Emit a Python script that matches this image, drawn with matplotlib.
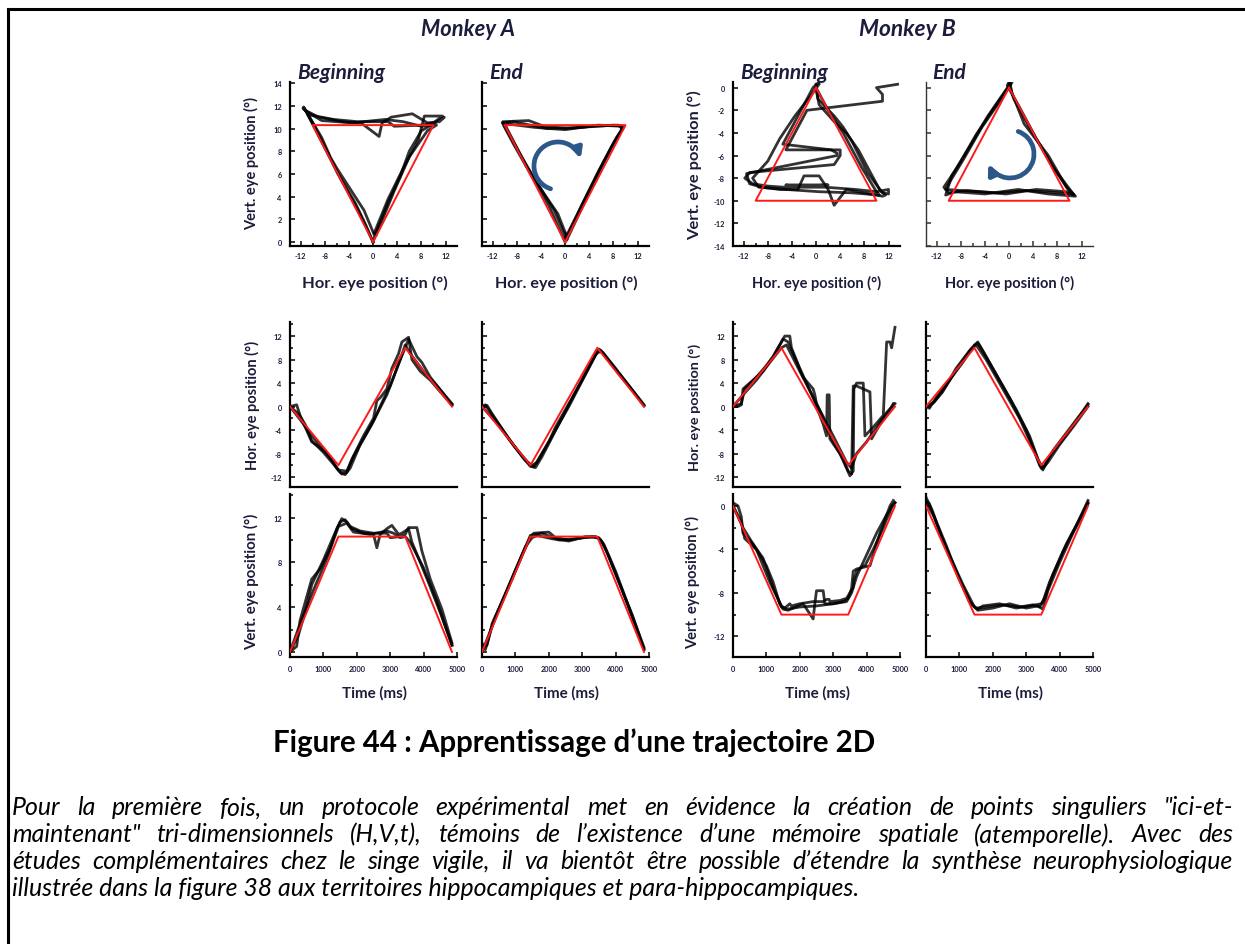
import matplotlib
matplotlib.use("Agg")
import matplotlib.pyplot as plt
from matplotlib.lines import Line2D
from matplotlib.patches import FancyArrowPatch
from matplotlib.path import Path
from matplotlib.transforms import Affine2D
from matplotlib.ticker import MultipleLocator, FixedLocator, NullLocator

# ---------------- data ----------------
TIME_TICKS = [0, 1000, 2000, 3000, 4000, 5000]
TARGET_T = [0, 1450, 3450, 4850]
TARGET_A_H = [0, -10, 10, 0]
TARGET_A_V = [0, 10.3, 10.3, 0]
TARGET_B_H = [0, 10, -10, 0]
TARGET_B_V = [0, -10, -10, 0]

# eye traces: (time ms, horizontal deg, vertical deg)
A_BEG_1 = [(0, 0, 0), (200, 0.3, 0.5), (300, -1.5, 2.8), (650, -6, 6.5), (900, -7, 7.4),
           (1200, -8.5, 9.2), (1400, -10.5, 11.0), (1550, -11.5, 11.9), (1700, -11.2, 11.6),
           (1850, -9, 11.0), (2200, -5, 10.6), (2500, -2, 10.5), (2600, 1, 9.3), (2700, 1.5, 10.5),
           (2900, 3, 11.0), (3050, 6.5, 11.3), (3250, 9, 10.5), (3350, 11, 10.6), (3550, 11.8, 11.0),
           (3650, 8, 9.8), (3900, 6, 8.0), (4200, 4.5, 5.8), (4500, 2.5, 3.5), (4850, 0.3, 0.6)]
A_BEG_2 = [(0, 0, 0), (250, -1.2, 1.5), (450, -3, 3.5), (650, -5.8, 6.0), (1000, -7.8, 8.2),
           (1300, -9.8, 10.3), (1500, -11.2, 11.6), (1650, -11.6, 11.8), (1800, -10.5, 11.2),
           (2100, -6.5, 10.8), (2500, -2.5, 10.6), (2900, 2.5, 10.6), (3000, 3.5, 10.2),
           (3300, 8, 10.3), (3450, 10, 10.5), (3550, 11.5, 11.1), (3800, 8.5, 11.1), (3950, 7.5, 9.0),
           (4200, 5, 6.5), (4550, 2.5, 3.8), (4850, 0.2, 0.8)]
A_BEG_3 = [(0, 0, 0), (300, -2.2, 2.5), (700, -5.3, 5.5), (1100, -8, 8.3), (1450, -10.8, 11.2),
           (1700, -11, 11.5), (1900, -8.5, 10.7), (2400, -3.5, 10.5), (2900, 2, 10.8), (3100, 5, 10.6),
           (3300, 8, 10.2), (3450, 10.5, 10.3), (3600, 9, 9.8), (4000, 6, 7.5), (4400, 3.5, 4.5),
           (4850, 0.5, 0.6)]

A_END_1 = [(0, 0, 0.3), (150, 0.2, 0.6), (300, -1.2, 2.5), (800, -5.5, 5.8), (1200, -8.5, 8.6),
           (1450, -10.2, 10.3), (1550, -10.3, 10.6), (2000, -6, 10.7), (2200, -3.5, 10.2),
           (2600, 0.5, 10.0), (3000, 4.5, 10.2), (3400, 8.8, 10.3), (3550, 9.6, 10.0), (3700, 8.5, 9.2),
           (4100, 5.5, 6.2), (4500, 2.8, 3.3), (4850, 0.2, 0.3)]
A_END_2 = [(0, 0, 0.8), (100, 0.3, 0.2), (350, -1.8, 2.8), (900, -6.2, 6.6), (1300, -9.2, 9.4),
           (1500, -10, 10.2), (1650, -9.5, 10.4), (2100, -5, 10.1), (2600, 0, 9.9), (3100, 5.5, 10.3),
           (3450, 9.3, 10.2), (3600, 9.3, 9.8), (3800, 7.8, 8.5), (4200, 5, 5.5), (4850, 0.3, 0.2)]
A_END_3 = [(0, 0, 0), (400, -2.5, 3.0), (1000, -7, 7.3), (1450, -10, 10.4), (1600, -10.4, 10.5),
           (1800, -8.5, 10.6), (2300, -3, 10.0), (2800, 2.5, 10.1), (3300, 8, 10.3), (3500, 9.8, 10.2),
           (3650, 9, 9.6), (4000, 6.5, 7.2), (4400, 3.5, 4.0), (4850, 0.1, 0.4)]

B_BEG_1 = [(0, 0, 0.3), (150, 0, 0), (250, 0.3, -1.0), (300, 3, -2.5), (600, 4.5, -3.5),
           (900, 6, -4.8), (1200, 8.5, -7.5), (1450, 11, -9.3), (1550, 12, -9.4), (1700, 12, -9.0),
           (1750, 10, -9.2), (2000, 6.5, -9.0), (2400, 1.5, -8.8), (2700, -3, -8.8), (2800, -5, -8.6),
           (2820, 2, -8.6), (2880, 2, -8.6), (2900, -5.5, -8.8), (3200, -8, -8.7), (3400, -10.5, -8.5),
           (3500, -11.8, -8.0), (3600, -11, -7.5), (3620, 3, -6.8), (3700, 4, -6.0), (3900, 4, -5.5),
           (3950, -5, -5.5), (4200, -3.5, -4.0), (4500, -1.5, -2.0), (4600, 11, -1.2), (4700, 11, -0.6),
           (4750, 10, 0), (4850, 13.5, 0.3)]
B_BEG_2 = [(0, 0, 0), (250, 0.5, -1.5), (350, 3, -3), (700, 5, -4), (1000, 7, -5.5), (1200, 8.5, -7),
           (1400, 10.5, -9), (1500, 11.5, -9.5), (1650, 11, -9.6), (1800, 9, -9.4), (2100, 5, -9.0),
           (2400, 3, -10.4), (2450, 2, -9.0), (2500, 0.5, -7.8), (2700, -2, -7.8), (2750, -3, -9.0),
           (3000, -6, -9.0), (3300, -9, -8.8), (3450, -11, -8.5), (3550, -11.5, -7.6), (3600, 3.5, -6.0),
           (3700, 3.5, -5.8), (4100, 2.5, -5.5), (4150, -5.5, -5.0), (4400, -3, -2.5), (4700, -0.5, 0),
           (4800, 0.5, 0.5)]
B_BEG_3 = [(0, 0, 0), (300, 2, -2), (700, 4.5, -4), (1100, 7.5, -7), (1450, 10, -9.2), (1600, 10.5, -9.5),
           (2000, 6, -9.3), (2500, 0.5, -9.2), (3000, -5, -9.0), (3400, -9.5, -8.8), (3550, -10.5, -8.0),
           (3700, -8, -6.5), (4000, -6, -4.5), (4300, -3.5, -2.5), (4600, -1, -0.8), (4850, 0.5, 0.3)]

B_END_1 = [(0, 0, 0.5), (100, -0.3, 0.2), (300, 1.5, -1.5), (700, 4.5, -4.5), (1100, 7.5, -7.2),
           (1450, 10.5, -9.3), (1550, 10.8, -9.5), (1700, 9.5, -9.2), (2200, 4.5, -9.0), (2700, -0.5, -9.4),
           (3100, -5, -9.2), (3450, -10.5, -9.0), (3550, -10, -8.5), (3800, -7.5, -6.3), (4200, -4.5, -3.5),
           (4600, -1.5, -1.2), (4850, 0.3, 0.3)]
B_END_2 = [(0, 0, 0.3), (250, 0.8, -1.0), (600, 3.5, -3.6), (1000, 7, -6.8), (1350, 9.8, -9.0),
           (1500, 10.5, -9.4), (1800, 8, -9.3), (2300, 3, -9.1), (2800, -2, -9.3), (3200, -7, -9.1),
           (3400, -10, -9.3), (3500, -10.8, -8.8), (3700, -8.5, -7.0), (4100, -5.5, -4.2), (4500, -2.5, -1.8),
           (4850, 0.5, 0.5)]
B_END_3 = [(0, 0, 0.8), (200, 0.5, -0.5), (500, 2.5, -3.2), (900, 6.5, -6.0), (1300, 9.5, -8.8),
           (1550, 11, -9.6), (2000, 6.5, -9.4), (2500, 1.5, -9.0), (3000, -4, -9.4), (3350, -9, -9.2),
           (3500, -10.5, -9.5), (3650, -9.5, -7.8), (4000, -6.5, -5.2), (4400, -3.5, -2.5), (4850, 0, 0.2)]

TITLE = "Figure 44 : Apprentissage d\u2019une trajectoire 2D"
CAPTION = [
    "Pour la premi\u00e8re fois, un protocole exp\u00e9rimental met en \u00e9vidence la cr\u00e9ation de points singuliers \"ici-et-",
    "maintenant\" tri-dimensionnels (H,V,t), t\u00e9moins de l\u2019existence d\u2019une m\u00e9moire spatiale (atemporelle). Avec des",
    "\u00e9tudes compl\u00e9mentaires chez le singe vigile, il va bient\u00f4t \u00eatre possible d\u2019\u00e9tendre la synth\u00e8se neurophysiologique",
    "illustr\u00e9e dans la figure 38 aux territoires hippocampiques et para-hippocampiques.",
]

# ---------------- style ----------------
plt.rcParams['font.family'] = ['Lato', 'DejaVu Sans']
plt.rcParams['font.weight'] = 'bold'
plt.rcParams['axes.unicode_minus'] = False

W, H = 1245, 945
fig = plt.figure(figsize=(W / 100, H / 100), dpi=100)
renderer = fig.canvas.get_renderer()

TXT = '#1c1c3c'
RED = '#ff1a1a'
ARROW = '#2c5789'
COLS = [290, 482, 733, 926]
AX_W = 167
ROWS = [(83, 247), (323, 488), (495, 658)]


def make_ax(col, row):
    top, bot = ROWS[row]
    left = COLS[col]
    return fig.add_axes([left / W, 1 - bot / H, AX_W / W, (bot - top) / H])


def style(ax, lw=1.6, color='k'):
    for s in ['top', 'right']:
        ax.spines[s].set_visible(False)
    for s in ['left', 'bottom']:
        ax.spines[s].set_linewidth(lw)
        ax.spines[s].set_color(color)
    ax.tick_params(which='both', direction='in', color=color, width=1.1,
                   labelsize=5.3, labelcolor=TXT)
    ax.tick_params(which='major', length=3.5)
    ax.tick_params(which='minor', length=2.5)
    ax.tick_params(axis='x', pad=4)
    ax.tick_params(axis='y', pad=6)
    ax.set_facecolor('none')


def fit_text(x, y, s, width, rotation=0, ha='center', va='center', **kw):
    t = fig.text(x / W, 1 - y / H, s, rotation=rotation, ha=ha, va=va, fontsize=10, **kw)
    bb = t.get_window_extent(renderer)
    size = bb.height if rotation == 90 else bb.width
    t.set_fontsize(10 * width / size)
    return t


conds = [
    ([A_BEG_1, A_BEG_2, A_BEG_3], TARGET_A_H, TARGET_A_V, 'A', True),
    ([A_END_1, A_END_2, A_END_3], TARGET_A_H, TARGET_A_V, 'A', False),
    ([B_BEG_1, B_BEG_2, B_BEG_3], TARGET_B_H, TARGET_B_V, 'B', True),
    ([B_END_1, B_END_2, B_END_3], TARGET_B_H, TARGET_B_V, 'B', False),
]

axes_rows = [[], [], []]
for c, (traces, th, tv, monkey, first) in enumerate(conds):
    ax1 = make_ax(c, 0)
    ax2 = make_ax(c, 1)
    ax3 = make_ax(c, 2)
    axes_rows[0].append(ax1)
    axes_rows[1].append(ax2)
    axes_rows[2].append(ax3)
    for tr in traces:
        t = [p[0] for p in tr]
        h = [p[1] for p in tr]
        v = [p[2] for p in tr]
        kw = dict(color='k', lw=2.0, alpha=0.8, solid_joinstyle='round', zorder=3)
        ax1.plot(h, v, **kw)
        ax2.plot(t, h, **kw)
        ax3.plot(t, v, **kw)
    rkw = dict(color=RED, lw=1.4, zorder=5)
    ax1.plot(th, tv, **rkw)
    ax2.plot(TARGET_T, th, **rkw)
    ax3.plot(TARGET_T, tv, **rkw)

    # row 1 : XY
    if c == 3:
        style(ax1, lw=1.0, color='#333333')
    else:
        style(ax1)
    ax1.set_xlim(-13.75, 13.9)
    ax1.xaxis.set_major_locator(FixedLocator([-12, -8, -4, 0, 4, 8, 12]))
    ax1.xaxis.set_minor_locator(MultipleLocator(2))
    if monkey == 'A':
        ax1.set_ylim(-0.35, 14.1)
    else:
        ax1.set_ylim(-14, 0.5)
    ax1.yaxis.set_major_locator(MultipleLocator(2))
    # row 2 : H vs time
    style(ax2)
    ax2.set_xlim(0, 5000)
    ax2.set_ylim(-13.7, 14.4)
    ax2.xaxis.set_major_locator(NullLocator())
    ax2.yaxis.set_major_locator(FixedLocator([-12, -8, -4, 0, 4, 8, 12]))
    ax2.yaxis.set_minor_locator(MultipleLocator(2))
    # row 3 : V vs time
    style(ax3)
    ax3.set_xlim(0, 5000)
    ax3.xaxis.set_major_locator(FixedLocator(TIME_TICKS))
    ax3.tick_params(axis='x', pad=6)
    if monkey == 'A':
        ax3.set_ylim(-0.45, 14.1)
        ax3.yaxis.set_major_locator(FixedLocator([0, 4, 8, 12]))
    else:
        ax3.set_ylim(-13.9, 1.1)
        ax3.yaxis.set_major_locator(FixedLocator([0, -4, -8, -12]))
    ax3.yaxis.set_minor_locator(MultipleLocator(2))
    if not first:
        for ax in (ax1, ax2, ax3):
            ax.tick_params(axis='y', labelleft=False)


# rotating arrows on the "End" XY panels
def arc_arrow(ax, cx, cy, r_px, th1, th2):
    bb = ax.get_position()
    aw, ah = bb.width * W, bb.height * H
    path = Path.arc(th1, th2)
    tr = Affine2D().scale(r_px / aw, r_px / ah).translate(cx, cy) + ax.transAxes
    p = FancyArrowPatch(path=path, arrowstyle='<|-', mutation_scale=14, lw=3.4,
                        color=ARROW, transform=tr, zorder=6)
    ax.add_patch(p)


arc_arrow(axes_rows[0][1], 0.455, 0.488, 24, 18, 252)
arc_arrow(axes_rows[0][3], 0.503, 0.561, 24, 205, 430)

# ---------------- texts ----------------
fit_text(468, 30, "Monkey A", 94, color=TXT, style='italic')
fit_text(907, 30, "Monkey B", 97, color=TXT, style='italic')
tb = fit_text(297, 73, "Beginning", 88, ha='left', color=TXT, style='italic')
fs_sub = tb.get_fontsize()
for x, s in [(489, "End"), (740, "Beginning"), (932, "End")]:
    fig.text(x / W, 1 - 73 / H, s, ha='left', va='center', fontsize=fs_sub, color=TXT, style='italic')

for x, w in zip([375, 566, 817, 1010], [146, 143, 130, 130]):
    fit_text(x, 283, "Hor. eye position (\u00b0)", w, color=TXT)
for x in [374, 566, 817, 1010]:
    fit_text(x, 693, "Time (ms)", 65, color=TXT)

fit_text(252, 163, "Vert. eye position (\u00b0)", 133, rotation=90, color=TXT)
fit_text(695, 165, "Vert. eye position (\u00b0)", 150, rotation=90, color=TXT)
fit_text(252, 405, "Hor. eye position (\u00b0)", 130, rotation=90, color=TXT)
fit_text(695, 407, "Hor. eye position (\u00b0)", 128, rotation=90, color=TXT)
fit_text(252, 582, "Vert. eye position (\u00b0)", 137, rotation=90, color=TXT)
fit_text(693, 583, "Vert. eye position (\u00b0)", 133, rotation=90, color=TXT)

# figure title
fit_text(273, 743, TITLE, 607, ha='left', color='black')

# caption: justified italic
ref = fig.text(0, 0, CAPTION[3], fontsize=10, style='italic', fontweight='normal')
fs_cap = 10 * (862 - 12) / ref.get_window_extent(renderer).width
ref.remove()
for i, (line, y) in enumerate(zip(CAPTION, [808, 835, 862, 889])):
    if i == 3:
        fig.text(12 / W, 1 - y / H, line, fontsize=fs_cap, style='italic', fontweight='normal',
                 ha='left', va='center', color='black')
        continue
    words = line.split(' ')
    texts, widths = [], []
    for wd in words:
        t = fig.text(0, 1 - y / H, wd, fontsize=fs_cap, style='italic', fontweight='normal',
                     ha='left', va='center', color='black')
        widths.append(t.get_window_extent(renderer).width)
        texts.append(t)
    gap = (1233 - 12 - sum(widths)) / (len(words) - 1)
    x = 12
    for t, wd in zip(texts, widths):
        t.set_x(x / W)
        x += wd + gap

# frame lines
fig.add_artist(Line2D([8 / W, 1.0], [1 - 10 / H, 1 - 10 / H], color='black', lw=2.2,
                      transform=fig.transFigure))
fig.add_artist(Line2D([8 / W, 8 / W], [1 - 10 / H, 0.0], color='black', lw=2.2,
                      transform=fig.transFigure))

fig.savefig("out.png", dpi=100, facecolor='white')
